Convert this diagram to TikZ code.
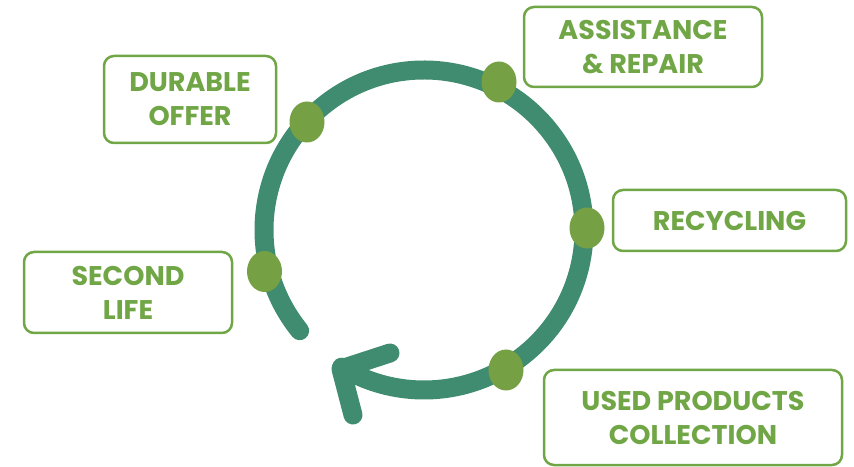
\documentclass[tikz,border=0pt]{standalone}
\usepackage{fontspec}
\setmainfont{Poppins}
\usetikzlibrary{shapes.geometric}

\definecolor{ringgreen}{RGB}{64,140,112}
\definecolor{dotgreen}{RGB}{118,160,68}
\definecolor{boxgreen}{RGB}{112,166,70}

\begin{document}
\begin{tikzpicture}[x=1pt,y=1pt,
    stagebox/.style={draw=boxgreen, line width=2.5pt, rounded corners=10pt,
        text=boxgreen, font=\fontsize{27}{34}\selectfont\bfseries,
        align=center, inner sep=0pt},
    stagedot/.style={ellipse, fill=dotgreen, inner sep=0pt,
        minimum width=35pt, minimum height=41pt},
    ring/.style={draw=ringgreen, line width=19pt, line cap=round, line join=round}]
    \useasboundingbox (0,0) rectangle (854,466);

    % Define coordinates
    \coordinate (c) at (424,236);
    \coordinate (tip) at (341,97);
    \coordinate (armup) at (390,113);
    \coordinate (armdown) at (353,51);

    % Draw the ring and its arrowhead
    \draw[ring] (c) ++(219:160pt) arc[start angle=219, end angle=-121, radius=160pt];
    \draw[ring] (armup) -- (tip) -- (armdown);

    % Draw the dots on the ring
    \node[stagedot] (dotrepair) at (499,384) {};
    \node[stagedot] (dotoffer) at (307,344) {};
    \node[stagedot] (dotrecycle) at (587,238) {};
    \node[stagedot] (dotsecond) at (264.5,194.5) {};
    \node[stagedot] (dotcollect) at (506,96) {};

    % Draw the labels
    \node[stagebox, minimum width=172pt, minimum height=87pt] (offer) at (190,366.5) {DURABLE\\OFFER};
    \node[stagebox, minimum width=238pt, minimum height=80pt] (repair) at (643,419) {ASSISTANCE\\\& REPAIR};
    \node[stagebox, minimum width=233pt, minimum height=61pt] (recycle) at (729.5,245.5) {RECYCLING};
    \node[stagebox, minimum width=208pt, minimum height=81pt] (second) at (128,173.5) {SECOND\\LIFE};
    \node[stagebox, minimum width=298pt, minimum height=95pt] (collect) at (693,48.5) {USED PRODUCTS\\COLLECTION};

\end{tikzpicture}
\end{document}
